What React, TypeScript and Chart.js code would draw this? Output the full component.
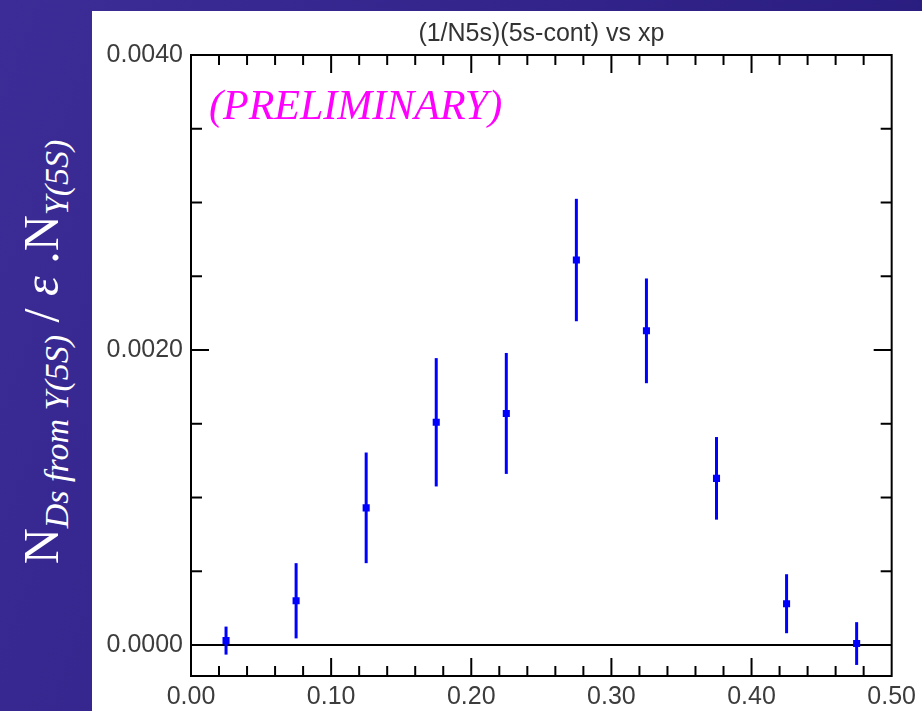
import React, { useEffect, useRef } from "react";
import { Chart, registerables } from "chart.js";

Chart.register(...registerables);

// ---- data ----
const xCenters = [0.025, 0.075, 0.125, 0.175, 0.225, 0.275, 0.325, 0.375, 0.425, 0.475];
const yValues = [0.00003, 0.0003, 0.00093, 0.00151, 0.00157, 0.00261, 0.00213, 0.00113, 0.00028, 0.00001];
const yErrors = [0.000095, 0.000255, 0.000375, 0.000435, 0.00041, 0.000415, 0.000355, 0.00028, 0.0002, 0.000145];
const xTickValues = [0, 0.1, 0.2, 0.3, 0.4, 0.5];
const yTickValues = [0, 0.002, 0.004];
const xMinorStep = 0.02;
const yMinorStep = 0.0005;
const titleText = "(1/N5s)(5s-cont) vs xp";
const stampText = "(PRELIMINARY)";

const framePlugin = {
  id: "frameAndErrors",
  beforeDatasetsDraw(chart: any) {
    const { ctx, chartArea, scales } = chart;
    const { left, right, top, bottom } = chartArea;
    const x = scales.x;
    const y = scales.y;
    const line = (x1: number, y1: number, x2: number, y2: number) => {
      ctx.beginPath();
      ctx.moveTo(x1, y1);
      ctx.lineTo(x2, y2);
      ctx.stroke();
    };
    ctx.save();
    ctx.strokeStyle = "#000";
    ctx.lineWidth = 2;
    ctx.strokeRect(left, top, right - left, bottom - top);
    const y0 = y.getPixelForValue(0);
    line(left, y0, right, y0);
    // x ticks (inward, top and bottom)
    const nx = Math.round((x.max - x.min) / xMinorStep);
    for (let i = 1; i < nx; i++) {
      const v = x.min + i * xMinorStep;
      const px = x.getPixelForValue(v);
      const major = i % 5 === 0;
      const len = major ? 18 : 10;
      line(px, bottom, px, bottom - len);
      line(px, top, px, top + len);
    }
    // y ticks (inward, left and right)
    for (let i = 1; i * yMinorStep < y.max - 1e-9; i++) {
      const v = i * yMinorStep;
      const py = y.getPixelForValue(v);
      const major = i % 4 === 0;
      const len = major ? 18 : 11;
      line(left, py, left + len, py);
      line(right, py, right - len, py);
    }
    // error bars
    ctx.strokeStyle = "#0000ff";
    ctx.lineWidth = 3;
    for (let i = 0; i < xCenters.length; i++) {
      const px = x.getPixelForValue(xCenters[i]);
      const pTop = y.getPixelForValue(yValues[i] + yErrors[i]);
      const pBot = y.getPixelForValue(yValues[i] - yErrors[i]);
      line(px, pTop, px, pBot);
    }
    ctx.restore();
  },
};

function App() {
  const ref = useRef<HTMLCanvasElement | null>(null);
  useEffect(() => {
    if (!ref.current) return;
    const chart = new Chart(ref.current, {
      type: "scatter",
      data: {
        datasets: [
          {
            data: xCenters.map((xv, i) => ({ x: xv, y: yValues[i] })),
            pointStyle: "rect",
            pointRadius: 5,
            backgroundColor: "#0000ff",
            borderColor: "#0000ff",
            borderWidth: 0,
            showLine: false,
          },
        ],
      },
      options: {
        animation: false,
        responsive: false,
        layout: { padding: { left: 0, right: 30, top: 0, bottom: 0 } },
        plugins: {
          legend: { display: false },
          tooltip: { enabled: false },
          title: {
            display: true,
            text: titleText,
            fullSize: false,
            color: "#333",
            font: { family: "'Liberation Sans', Arial, sans-serif", size: 25, weight: "normal", lineHeight: 1 },
            padding: { top: 11, bottom: 8 },
          },
        },
        scales: {
          x: {
            type: "linear",
            min: 0,
            max: 0.5,
            grid: { display: false, drawTicks: false },
            border: { display: false },
            afterBuildTicks: (s: any) => {
              s.ticks = xTickValues.map((v) => ({ value: v }));
            },
            afterFit: (s: any) => {
              s.height = 35;
            },
            ticks: {
              padding: 6,
              color: "#3c3c3c",
              font: { family: "'Liberation Sans', Arial, sans-serif", size: 25 },
              maxRotation: 0,
              callback: (v: any) => Number(v).toFixed(2),
            },
          },
          y: {
            type: "linear",
            min: -0.00021,
            max: 0.004,
            grid: { display: false, drawTicks: false },
            border: { display: false },
            afterBuildTicks: (s: any) => {
              s.ticks = yTickValues.map((v) => ({ value: v }));
            },
            afterFit: (s: any) => {
              s.width = 99;
            },
            ticks: {
              padding: 8,
              color: "#3c3c3c",
              font: { family: "'Liberation Sans', Arial, sans-serif", size: 25 },
              callback: (v: any) => Number(v).toFixed(4),
            },
          },
        },
      },
      plugins: [framePlugin],
    } as any);
    return () => chart.destroy();
  }, []);

  return (
    <div
      style={{
        position: "fixed",
        left: 0,
        top: 0,
        width: 922,
        height: 711,
        overflow: "hidden",
        background: "linear-gradient(110deg, #3c2c97 0%, #33258c 40%, #26197a 100%)",
      }}
    >
      <div style={{ position: "absolute", left: 92, top: 11, width: 830, height: 700, background: "#fff" }}>
        <canvas ref={ref} width={830} height={700} style={{ display: "block" }} />
      </div>
      <div
        style={{
          position: "absolute",
          left: 209,
          top: 84,
          color: "#ff00ff",
          fontFamily: "'Liberation Serif', 'Times New Roman', serif",
          fontStyle: "italic",
          fontSize: 42,
          lineHeight: 1,
          whiteSpace: "nowrap",
        }}
      >
        {stampText}
      </div>
      <div
        style={{
          position: "absolute",
          left: 45,
          top: 352,
          transform: "translate(-50%, -50%) rotate(-90deg)",
          color: "#fff",
          fontFamily: "'Liberation Serif', 'Times New Roman', serif",
          fontSize: 50,
          lineHeight: 1,
          whiteSpace: "nowrap",
        }}
      >
        <span>N</span>
        <sub style={{ fontSize: 34, fontStyle: "italic", verticalAlign: "-0.3em" }}>Ds from Y(5S)</sub>
        <span> / </span>
        <i>ε</i>
        <span> .</span>
        <span>N</span>
        <sub style={{ fontSize: 34, fontStyle: "italic", verticalAlign: "-0.3em" }}>Y(5S)</sub>
      </div>
    </div>
  );
}

export default App;
